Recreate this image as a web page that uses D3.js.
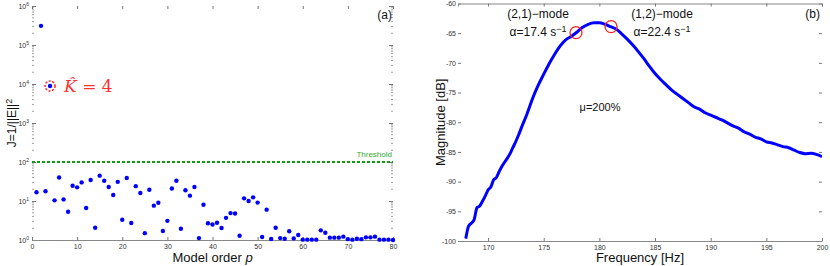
<!DOCTYPE html>
<html>
<head>
<meta charset="utf-8">
<script src="https://cdn.jsdelivr.net/npm/d3@7"></script>
<style>
  body { margin: 0; background: #fff; }
  svg { display: block; font-family: "Liberation Sans", Arial, sans-serif; }
  .tick text { fill: #333; font-size: 7px; font-family: "Liberation Sans", Arial, sans-serif; }
  .tick line { stroke: #777; }
</style>
</head>
<body>
<div class="chart"></div>
<script>
// ---- panel (a): cost vs model order ----
const model_order = d3.range(1, 81);
const cost_J = [
  16.7, 3.1e5, 17.8, 8900, 10.4, 40, 11, 5.3, 24.7, 22.4,
  30, 6.6, 34.6, 2.07, 44.7, 33, 22.9, 14.2, 31, 3.3,
  39, 2.73, 24, 16, 1.5, 19.5, 7.6, 9.0, 1.7, 3.1,
  21, 33, 1.95, 18.8, 13.7, 22.9, 1.12, 8.0, 2.7, 2.5,
  2.78, 2.03, 3.7, 4.9, 4.8, 1.29, 11.7, 10, 12.4, 9.1,
  1.19, 6.0, 1.06, 2.07, 1.12, 1.08, 1.67, 1.1, 1.34, 1.02,
  1.02, 1.02, 1.02, 1.77, 1.54, 1.15, 1.15, 1.15, 1.22, 1.05,
  1.02, 1.08, 1.05, 1.17, 1.17, 1.22, 1.02, 1.02, 1.02, 1.0
];
const threshold = 100;
const selected_order = 4;
const order_ticks = [0, 10, 20, 30, 40, 50, 60, 70, 80];
const cost_decades = [0, 1, 2, 3, 4, 5, 6];

// ---- panel (b): frequency response ----
const freq_hz = [
  168.0, 168.25, 168.5, 168.75, 169.0, 169.25, 169.5, 169.75, 170.0, 170.25,
  170.5, 170.75, 171.0, 171.25, 171.5, 171.75, 172.0, 172.25, 172.5, 172.75,
  173.0, 173.5, 174.0, 174.5, 175.0, 175.5, 176.0, 176.5, 177.0, 177.5,
  178.0, 178.5, 179.0, 179.5, 180.0, 180.5, 181.0, 181.5, 182.0, 182.5,
  183.0, 183.5, 184.0, 184.5, 185.0, 185.5, 186.0, 186.5, 187.0, 187.5,
  188.0, 188.5, 189.0, 189.5, 190.0, 190.5, 191.0, 191.5, 192.0, 192.5,
  193.0, 193.5, 194.0, 194.5, 195.0, 195.5, 196.0, 196.5, 197.0, 197.5,
  198.0, 198.5, 199.0, 199.5, 200.0
];
const magnitude_db = [
  -99.6, -97.5, -97.0, -96.4, -94.4, -94.1, -93.3, -92.4, -91.4, -90.9,
  -89.7, -89.3, -88.3, -87.4, -86.7, -86.0, -85.2, -84.2, -83.2, -82.1,
  -80.9, -78.6, -76.0, -73.8, -71.9, -70.1, -68.5, -67.1, -66.1, -65.5,
  -64.8, -64.0, -63.5, -63.25, -63.25, -63.5, -63.9, -64.3, -65.1, -66.0,
  -67.0, -68.1, -69.3, -70.6, -71.8, -72.8, -73.7, -74.6, -75.3, -76.0,
  -76.7, -77.4, -77.8, -78.4, -78.8, -79.2, -79.6, -80.1, -80.6, -81.0,
  -81.6, -82.0, -82.5, -82.8, -83.3, -83.5, -83.8, -84.1, -84.3, -84.7,
  -85.1, -85.3, -85.2, -85.4, -85.8
];
const mode_marks = [
  {freq: 177.9, db: -64.9, name: "(2,1)\u2212mode", alpha: "17.4"},
  {freq: 181.05, db: -63.9, name: "(1,2)\u2212mode", alpha: "22.4"}
];
const freq_ticks = [170, 175, 180, 185, 190, 195, 200];
const db_ticks = [-100, -95, -90, -85, -80, -75, -70, -65, -60];

const svg_width = 830;
const svg_height = 266;
const svg = d3.select(".chart").append("svg")
  .attr("width", svg_width).attr("height", svg_height);

const blue = "#0000ff";

// ================= panel (a) =================
const xA = d3.scaleLinear([0, 80], [32, 393]);
const yA = d3.scaleLog([1, 1e6], [240, 6]);
const panelA = svg.append("g");

// minor log ticks
const minor_vals = [];
for (let k = 0; k < 6; k++) for (let m = 2; m <= 9; m++) minor_vals.push(m * Math.pow(10, k));

panelA.append("g").selectAll("line.minl").data(minor_vals).join("line")
  .attr("x1", xA(0)).attr("x2", xA(0) + 2)
  .attr("y1", d => yA(d)).attr("y2", d => yA(d))
  .attr("stroke", "#888").attr("stroke-width", 0.8);
panelA.append("g").selectAll("line.minr").data(minor_vals).join("line")
  .attr("x1", xA(80)).attr("x2", xA(80) - 2)
  .attr("y1", d => yA(d)).attr("y2", d => yA(d))
  .attr("stroke", "#888").attr("stroke-width", 0.8);

const yAxisA = d3.axisLeft(yA)
  .tickValues(cost_decades.map(k => Math.pow(10, k)))
  .tickSizeInner(-4).tickSizeOuter(0).tickPadding(3)
  .tickFormat("");
const yAxisA_draw = panelA.append("g").attr("transform", `translate(${xA(0)},0)`).call(yAxisA);
yAxisA_draw.select(".domain").remove();
yAxisA_draw.selectAll(".tick text")
  .each(function(d) {
    const t = d3.select(this);
    t.text("10");
    t.append("tspan").attr("dy", "-0.55em").style("font-size", "5px").text(Math.round(Math.log10(d)));
  });

panelA.append("g").attr("transform", `translate(${xA(80)},0)`)
  .call(d3.axisRight(yA).tickValues(cost_decades.map(k => Math.pow(10, k))).tickSize(-4).tickFormat(""))
  .call(g => g.select(".domain").remove());

const xAxisA = d3.axisBottom(xA).tickValues(order_ticks).tickSizeInner(-3).tickSizeOuter(0).tickPadding(4);
const xAxisA_draw = panelA.append("g").attr("transform", `translate(0,${yA(1)})`).call(xAxisA);
xAxisA_draw.select(".domain").attr("stroke", "#888");

panelA.append("g").attr("transform", `translate(0,${yA(1e6)})`)
  .call(d3.axisTop(xA).tickValues(order_ticks).tickSize(-3).tickFormat(""))
  .call(g => g.select(".domain").remove());

// threshold
panelA.append("line")
  .attr("x1", xA(0)).attr("x2", xA(80))
  .attr("y1", yA(threshold)).attr("y2", yA(threshold))
  .attr("stroke", "#119911").attr("stroke-width", 2.2)
  .attr("stroke-dasharray", "3,2");
panelA.append("text")
  .attr("x", xA(80) - 1).attr("y", yA(threshold) - 5)
  .attr("text-anchor", "end").attr("fill", "#33aa33")
  .style("font-size", "8px").text("Threshold");

// points
panelA.append("g").selectAll("circle").data(model_order).join("circle")
  .attr("cx", d => xA(d))
  .attr("cy", (d, i) => yA(cost_J[i]))
  .attr("r", 2.2).attr("fill", blue);

// selected order
const sel_x = xA(selected_order), sel_y = yA(cost_J[selected_order - 1]);
panelA.append("circle")
  .attr("cx", sel_x).attr("cy", sel_y).attr("r", 5)
  .attr("fill", "none").attr("stroke", "#ff2020").attr("stroke-width", 1.5)
  .attr("stroke-dasharray", "2,1.6");
const khat = panelA.append("text")
  .attr("x", sel_x + 14).attr("y", sel_y + 6)
  .attr("fill", "#ff3030")
  .style("font-family", "'DejaVu Serif', 'Liberation Serif', serif")
  .style("font-size", "17px");
khat.append("tspan").style("font-style", "italic").text("K\u0302");
khat.append("tspan").text(" = " + selected_order);

panelA.append("text")
  .attr("x", xA(80) - 1).attr("y", 19)
  .attr("text-anchor", "end").style("font-size", "12px").attr("fill", "#111")
  .text("(a)");

panelA.append("text")
  .attr("x", (xA(0) + xA(80)) / 2).attr("y", 262)
  .attr("text-anchor", "middle").style("font-size", "13px").attr("fill", "#111")
  .call(t => { t.append("tspan").text("Model order "); t.append("tspan").style("font-style", "italic").text("p"); });

const ylabA = panelA.append("text")
  .attr("transform", `translate(16,${(yA(1) + yA(1e6)) / 2}) rotate(-90)`)
  .attr("text-anchor", "middle").style("font-size", "12px").attr("fill", "#111");
ylabA.append("tspan").text("J=1/||E||");
ylabA.append("tspan").attr("dy", "-0.5em").style("font-size", "9px").text("2");

// ================= panel (b) =================
const xB = d3.scaleLinear([167.3, 200], [458, 822]);
const yB = d3.scaleLinear([-100, -60], [241, 3.5]);
const panelB = svg.append("g");

const yAxisB = d3.axisLeft(yB).tickValues(db_ticks).tickSizeInner(-3).tickSizeOuter(0).tickPadding(2)
  .tickFormat(d => "-" + Math.abs(d));
panelB.append("g").attr("transform", `translate(${xB.range()[0]},0)`).call(yAxisB)
  .call(g => g.select(".domain").remove());
panelB.append("g").attr("transform", `translate(${xB.range()[1]},0)`)
  .call(d3.axisRight(yB).tickValues(db_ticks).tickSize(-3).tickFormat(""))
  .call(g => g.select(".domain").remove());

const xAxisB = d3.axisBottom(xB).tickValues(freq_ticks).tickSizeInner(-3).tickSizeOuter(0).tickPadding(4);
panelB.append("g").attr("transform", `translate(0,${yB(-100)})`).call(xAxisB)
  .call(g => g.select(".domain").attr("stroke", "#888"));
panelB.append("g").attr("transform", `translate(0,${yB(-60)})`)
  .call(d3.axisTop(xB).tickValues(freq_ticks).tickSize(-3).tickFormat(""))
  .call(g => g.select(".domain").attr("stroke", "#888"));

svg.append("defs").append("clipPath").attr("id", "clipB")
  .append("rect").attr("x", xB.range()[0]).attr("y", yB(-60))
  .attr("width", xB.range()[1] - xB.range()[0]).attr("height", yB(-100) - yB(-60));

const line = d3.line().x((d, i) => xB(freq_hz[i])).y(d => yB(d)).curve(d3.curveMonotoneX);
panelB.append("path")
  .attr("clip-path", "url(#clipB)")
  .attr("d", line(magnitude_db))
  .attr("fill", "none").attr("stroke", blue).attr("stroke-width", 3)
  .attr("stroke-linejoin", "round");

panelB.selectAll("circle.mode").data(mode_marks).join("circle")
  .attr("cx", d => xB(d.freq)).attr("cy", d => yB(d.db)).attr("r", 6)
  .attr("fill", "none").attr("stroke", "#ff2020").attr("stroke-width", 1.3);

const label_x = [538, 662];
mode_marks.forEach((m, i) => {
  panelB.append("text").attr("x", label_x[i]).attr("y", 18)
    .attr("text-anchor", "middle").style("font-size", "12px").attr("fill", "#111").text(m.name);
  const a = panelB.append("text").attr("x", label_x[i]).attr("y", 36)
    .attr("text-anchor", "middle").style("font-size", "12px").attr("fill", "#111");
  a.append("tspan").text("\u03b1=" + m.alpha + " s");
  a.append("tspan").attr("dy", "-0.5em").style("font-size", "9px").text("\u22121");
});

panelB.append("text").attr("x", 600).attr("y", 111)
  .attr("text-anchor", "middle").style("font-size", "11px").attr("fill", "#111")
  .text("\u03bc=200%");

panelB.append("text").attr("x", 820).attr("y", 18)
  .attr("text-anchor", "end").style("font-size", "12px").attr("fill", "#111").text("(b)");

panelB.append("text")
  .attr("x", (xB.range()[0] + xB.range()[1]) / 2).attr("y", 262)
  .attr("text-anchor", "middle").style("font-size", "13px").attr("fill", "#111")
  .text("Frequency [Hz]");
panelB.append("text")
  .attr("transform", `translate(445,${(yB(-100) + yB(-60)) / 2}) rotate(-90)`)
  .attr("text-anchor", "middle").style("font-size", "13px").attr("fill", "#111")
  .text("Magnitude [dB]");
</script>
</body>
</html>
